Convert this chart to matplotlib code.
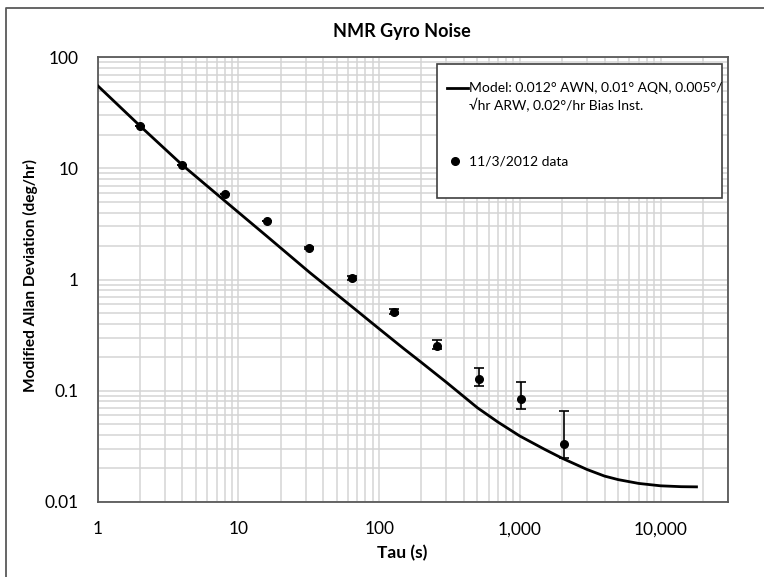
import matplotlib
matplotlib.use("Agg")
import matplotlib.pyplot as plt
from matplotlib.ticker import FixedLocator, FixedFormatter, LogLocator, NullFormatter
from matplotlib.lines import Line2D
from matplotlib.patches import Rectangle
import numpy as np

# ---------------- data ----------------
title = "NMR Gyro Noise"
x_label = "Tau (s)"
y_label = "Modified Allan Deviation (deg/hr)"
model_label_1 = "Model: 0.012° AWN, 0.01° AQN, 0.005°/"
model_label_2 = "√hr ARW, 0.02°/hr Bias Inst."
data_label = "11/3/2012 data"

model_tau = [1, 2, 4, 8, 16, 32, 64, 100, 150, 200, 300, 500, 700, 1000, 1500,
             2000, 3000, 4000, 5000, 7000, 10000, 14000, 18000]
model_dev = [55.5, 24.1, 10.7, 5.1, 2.44, 1.16, 0.57, 0.36, 0.238, 0.179,
             0.119, 0.070, 0.052, 0.039, 0.0296, 0.0246, 0.0195, 0.0170,
             0.0158, 0.0146, 0.0139, 0.01365, 0.0136]

data_tau = [2, 4, 8, 16, 32, 64, 128, 256, 512, 1024, 2048]
data_dev = [24.1, 10.7, 5.85, 3.38, 1.91, 1.04, 0.513, 0.254, 0.127, 0.084, 0.0329]
data_lo = [24.1, 10.7, 5.85, 3.38, 1.88, 1.00, 0.486, 0.235, 0.110, 0.068, 0.0249]
data_hi = [24.1, 10.7, 5.85, 3.38, 1.95, 1.08, 0.546, 0.284, 0.159, 0.119, 0.0659]

x_ticks = [1, 10, 100, 1000, 10000]
x_tick_labels = ["1", "10", "100", "1,000", "10,000"]
y_ticks = [0.01, 0.1, 1, 10, 100]
y_tick_labels = ["0.01", "0.1", "1", "10", "100"]

# ---------------- figure ----------------
W, H = 764, 577
plt.rcParams['font.family'] = ['Lato', 'DejaVu Sans']
fig = plt.figure(figsize=(W / 100, H / 100), dpi=100)

def fx(x):
    return x / W

def fy(y):
    return 1 - y / H

L, R, T, B = 97.7, 727.7, 57.3, 501.7
ax = fig.add_axes([fx(L), fy(B), (R - L) / W, (B - T) / H])
ax.set_xscale('log')
ax.set_yscale('log')
ax.set_xlim(1, 30000)
ax.set_ylim(0.01, 100)

grid_c = '#d4d4d4'
ax.xaxis.set_major_locator(FixedLocator(x_ticks))
ax.xaxis.set_major_formatter(FixedFormatter(x_tick_labels))
ax.yaxis.set_major_locator(FixedLocator(y_ticks))
ax.yaxis.set_major_formatter(FixedFormatter(y_tick_labels))
ax.xaxis.set_minor_locator(LogLocator(base=10, subs=np.arange(2, 10), numticks=20))
ax.yaxis.set_minor_locator(LogLocator(base=10, subs=np.arange(2, 10), numticks=20))
ax.xaxis.set_minor_formatter(NullFormatter())
ax.yaxis.set_minor_formatter(NullFormatter())
ax.grid(True, which='both', color=grid_c, linewidth=1.1)
ax.set_axisbelow(True)
ax.tick_params(which='both', length=0)
ax.tick_params(axis='x', pad=14, labelsize=12.5)
ax.tick_params(axis='y', pad=14, labelsize=12.5)
for s in ax.spines.values():
    s.set_color('#595959')
    s.set_linewidth(1.3)

ax.plot(model_tau, model_dev, color='black', linewidth=2.0, zorder=3)
yerr = [np.array(data_dev) - np.array(data_lo), np.array(data_hi) - np.array(data_dev)]
ax.errorbar(data_tau, data_dev, yerr=yerr, fmt='o', color='black', markersize=5.5,
            elinewidth=1.2, capsize=3.5, capthick=1.2, zorder=4)

# titles
fig.text(fx(402), fy(31), title, ha='center', va='center', fontsize=13, fontweight='bold')
fig.text(fx(402), fy(553), x_label, ha='center', va='center', fontsize=12.5, fontweight='bold')
fig.text(fx(30), fy(275), y_label, ha='center', va='center', rotation=90,
         fontsize=11.2, fontweight='bold')

# legend box (manual)
lg = Rectangle((fx(436.7), fy(198.3)), (721.7 - 436.7) / W, (198.3 - 64.3) / H,
               transform=fig.transFigure, facecolor='white', edgecolor='#404040',
               linewidth=1.2, zorder=10)
fig.add_artist(lg)
fig.add_artist(Line2D([fx(446.7), fx(468.3)], [fy(88.3), fy(88.3)], color='black',
                      linewidth=2.0, transform=fig.transFigure, zorder=11))
fig.text(fx(469), fy(88.3), model_label_1, ha='left', va='center', fontsize=10,
         zorder=11)
fig.text(fx(469), fy(105.5), model_label_2, ha='left', va='center', fontsize=10,
         zorder=11)
fig.add_artist(Line2D([fx(455)], [fy(161)], marker='o', color='black', markersize=5.5,
                      transform=fig.transFigure, zorder=11))
fig.text(fx(469), fy(161), data_label, ha='left', va='center', fontsize=10, zorder=11)

# chart-area border (left/top)
fig.add_artist(Line2D([fx(6), fx(6), fx(800)], [fy(600), fy(8), fy(8)], color='#595959',
                      linewidth=1.3, transform=fig.transFigure))

fig.savefig('out.png', dpi=100)
